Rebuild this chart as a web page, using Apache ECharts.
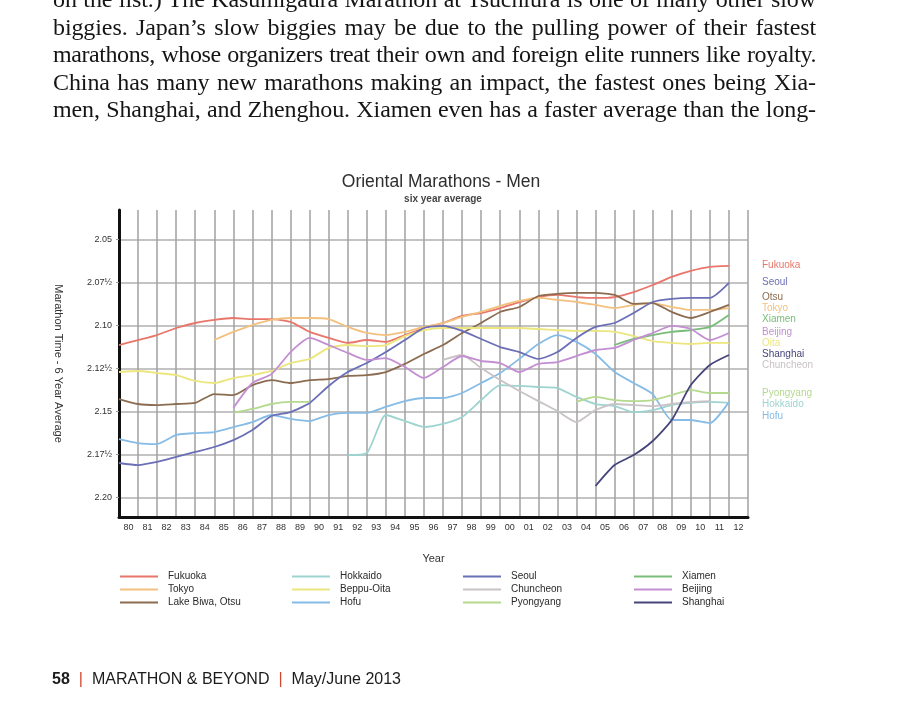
<!DOCTYPE html>
<html>
<head>
<meta charset="utf-8">
<title>Oriental Marathons - Men</title>
<script src="https://cdn.jsdelivr.net/npm/echarts@6/dist/echarts.min.js"></script>
<style>
  html, body { margin: 0; padding: 0; background: #fff; }
  body { width: 900px; height: 718px; position: relative; overflow: hidden; }
  #chart { position: absolute; left: 0; top: 0; width: 900px; height: 718px; }
  .copy { position: absolute; left: 53px; top: -14px; width: 763px;
    font-family: 'Liberation Serif', 'Times New Roman', serif; font-size: 24px;
    line-height: 27.6px; color: #151515; letter-spacing: -0.1px; }
  .copy div { text-align: justify; text-align-last: justify; }
  .copy .tight { letter-spacing: -0.42px; }
  .foot { position: absolute; left: 52px; top: 670px;
    font-family: 'Liberation Sans', Arial, sans-serif; font-size: 16px; color: #1c1c1c; }
  .foot .bar { color: #d2472f; margin: 0 9px; }
</style>
</head>
<body>
<div id="chart"></div>
<div class="copy">
  <div>on the list.) The Kasumigaura Marathon at Tsuchiura is one of many other slow</div>
  <div>biggies. Japan’s slow biggies may be due to the pulling power of their fastest</div>
  <div class="tight">marathons, whose organizers treat their own and foreign elite runners like royalty.</div>
  <div>China has many new marathons making an impact, the fastest ones being Xia-</div>
  <div>men, Shanghai, and Zhenghou. Xiamen even has a faster average than the long-</div>
</div>
<div class="foot"><b>58</b><span class="bar">|</span>MARATHON &amp; BEYOND<span class="bar">|</span>May/June 2013</div>
<script>
// years on the x axis, and their printed labels
const years = [1980, 1981, 1982, 1983, 1984, 1985, 1986, 1987, 1988, 1989, 1990,
  1991, 1992, 1993, 1994, 1995, 1996, 1997, 1998, 1999, 2000, 2001, 2002, 2003,
  2004, 2005, 2006, 2007, 2008, 2009, 2010, 2011, 2012];
const yearLabels = ['80', '81', '82', '83', '84', '85', '86', '87', '88', '89', '90',
  '91', '92', '93', '94', '95', '96', '97', '98', '99', '00', '01', '02', '03',
  '04', '05', '06', '07', '08', '09', '10', '11', '12'];

// marathon time in minutes (125 = 2:05:00), lower is faster
const timeTicks = [125, 127.5, 130, 132.5, 135, 137.5, 140];
const timeLabels = ['2.05', '2.07½', '2.10', '2.12½', '2.15', '2.17½', '2.20'];

const fukuoka = [131.14, 130.85, 130.56, 130.15, 129.86, 129.68, 129.57, 129.63, 129.63, 129.80,
  130.38, 130.73, 131.02, 130.85, 130.96, 130.56, 130.15, 129.86, 129.45, 129.28,
  128.99, 128.64, 128.35, 128.23, 128.35, 128.40, 128.35, 128.06, 127.65, 127.18,
  126.83, 126.60, 126.54];
const tokyo = [null, null, null, null, null, 130.85, 130.38, 129.98, 129.68, 129.57,
  129.57, 129.63, 130.09, 130.44, 130.56, 130.38, 130.09, 129.86, 129.51, 129.22,
  128.87, 128.58, 128.40, 128.52, 128.64, 128.81, 128.99, 128.81, 128.70, 128.93,
  129.10, 129.10, 128.99];
const lakeBiwa = [134.28, 134.57, 134.63, 134.57, 134.51, 133.99, 134.05, 133.47, 133.18, 133.35,
  133.18, 133.12, 132.94, 132.89, 132.71, 132.24, 131.66, 131.14, 130.44, 129.86,
  129.22, 128.93, 128.29, 128.17, 128.11, 128.11, 128.23, 128.75, 128.70, 129.22,
  129.57, 129.22, 128.81];
const hokkaido = [null, null, null, null, null, null, null, null, null, null,
  null, null, 137.54, 137.42, 135.21, 135.56, 135.91, 135.73, 135.33, 134.34,
  133.47, 133.52, 133.58, 133.64, 134.16, 134.57, 134.69, 135.04, 134.92, 134.63,
  134.51, 134.45, 134.51];
const beppuOita = [132.71, 132.65, 132.77, 132.89, 133.23, 133.35, 133.06, 132.89, 132.65, 132.19,
  131.95, 131.31, 131.14, 131.20, 131.14, 130.62, 130.27, 130.15, 130.15, 130.15,
  130.15, 130.15, 130.21, 130.27, 130.32, 130.32, 130.38, 130.62, 130.91, 131.02,
  131.08, 131.02, 131.02];
const hofu = [136.61, 136.84, 136.90, 136.37, 136.26, 136.20, 135.91, 135.62, 135.21, 135.44,
  135.56, 135.21, 135.09, 135.09, 134.74, 134.40, 134.22, 134.22, 133.93, 133.35,
  132.77, 131.95, 131.08, 130.56, 130.96, 131.66, 132.71, 133.35, 133.99, 135.50,
  135.50, 135.68, 134.45];
const seoul = [138.00, 138.12, 137.94, 137.65, 137.36, 137.07, 136.67, 136.08, 135.27, 135.04,
  134.51, 133.52, 132.71, 132.19, 131.55, 130.85, 130.15, 130.03, 130.32, 130.79,
  131.26, 131.55, 131.95, 131.55, 130.73, 130.09, 129.86, 129.28, 128.64, 128.46,
  128.40, 128.40, 127.53];
const chuncheon = [null, null, null, null, null, null, null, null, null, null,
  null, null, null, null, null, null, null, 132.01, 131.72, 132.48,
  133.18, 133.81, 134.40, 134.98, 135.62, 134.92, 134.57, 134.63, 134.69, 134.57,
  134.45, 134.40, null];
const pyongyang = [null, null, null, null, null, null, 135.09, 134.86, 134.57, 134.45,
  134.45, null, null, null, null, null, null, null, null, null,
  null, null, null, null, 134.45, 134.16, 134.34, 134.40, 134.34, 134.05,
  133.76, 133.93, 133.93];
const xiamen = [null, null, null, null, null, null, null, null, null, null,
  null, null, null, null, null, null, null, null, null, null,
  null, null, null, null, null, null, 131.14, 130.79, 130.56, 130.38,
  130.27, 130.09, 129.39];
const beijing = [null, null, null, null, null, null, 134.80, 133.35, 132.83, 131.55,
  130.73, 131.14, 131.60, 132.01, 131.90, 132.42, 133.06, 132.42, 131.78, 132.07,
  132.19, 132.71, 132.24, 132.13, 131.78, 131.43, 131.31, 130.85, 130.44, 130.03,
  130.21, 130.85, 130.44];
const shanghai = [null, null, null, null, null, null, null, null, null, null,
  null, null, null, null, null, null, null, null, null, null,
  null, null, null, null, null, 139.34, 138.12, 137.54, 136.72, 135.50,
  133.47, 132.30, 131.72];

const FONT = "'Liberation Sans', Arial, sans-serif";
const NARROW = "'Liberation Sans Narrow', 'Liberation Sans', Arial, sans-serif";

const lines = [
  ['Fukuoka', fukuoka, '#e8766a'],
  ['Tokyo', tokyo, '#f3c17f'],
  ['Lake Biwa, Otsu', lakeBiwa, '#8b6c50'],
  ['Hokkaido', hokkaido, '#9ed4d0'],
  ['Beppu-Oita', beppuOita, '#ece67e'],
  ['Hofu', hofu, '#86bce6'],
  ['Seoul', seoul, '#6b6fb6'],
  ['Chuncheon', chuncheon, '#c9c2c6'],
  ['Pyongyang', pyongyang, '#b5d98e'],
  ['Xiamen', xiamen, '#78bd79'],
  ['Beijing', beijing, '#c38fd2'],
  ['Shanghai', shanghai, '#46457a']
];

const legendCols = [
  ['Fukuoka', 'Tokyo', 'Lake Biwa, Otsu'],
  ['Hokkaido', 'Beppu-Oita', 'Hofu'],
  ['Seoul', 'Chuncheon', 'Pyongyang'],
  ['Xiamen', 'Beijing', 'Shanghai']
];
const legendLeft = [120, 292, 463, 634];

// names printed beside the line ends
const sideLabels = [
  ['Fukuoka', '#e8766a', 265], ['Seoul', '#6b6fb6', 282], ['Otsu', '#8b6c50', 297],
  ['Tokyo', '#f3c17f', 308], ['Xiamen', '#78bd79', 319], ['Beijing', '#c38fd2', 332],
  ['Oita', '#ece67e', 343], ['Shanghai', '#46457a', 354], ['Chuncheon', '#c9c2c6', 365],
  ['Pyongyang', '#b5d98e', 393], ['Hokkaido', '#9ed4d0', 404], ['Hofu', '#86bce6', 416]
];

const chart = echarts.init(document.getElementById('chart'));
chart.setOption({
  animation: false,
  backgroundColor: 'transparent',
  textStyle: { fontFamily: FONT },
  grid: { left: 119, top: 210, width: 629, height: 307 },
  legend: legendCols.map((names, k) => ({
    data: names,
    orient: 'vertical',
    left: legendLeft[k],
    top: 570,
    padding: 0,
    itemWidth: 38,
    itemHeight: 2,
    itemGap: 0,
    icon: 'rect',
    selectedMode: false,
    textStyle: { fontSize: 10, lineHeight: 13, color: '#2a2a2a', fontFamily: NARROW, padding: [0, 0, 0, 5] }
  })),
  xAxis: {
    type: 'value',
    min: 1980,
    max: 2013,
    interval: 1,
    name: 'Year',
    nameLocation: 'middle',
    nameGap: 36,
    nameTextStyle: { fontSize: 11, color: '#333' },
    axisLine: { show: true, onZero: false, lineStyle: { color: '#111', width: 3 } },
    axisTick: { show: false },
    axisLabel: {
      fontSize: 9,
      color: '#333',
      fontFamily: NARROW,
      margin: 6,
      padding: [0, 0, 0, 19],
      formatter: v => yearLabels[years.indexOf(v)] || ''
    },
    splitLine: { show: true, lineStyle: { color: '#a0a0a0', width: 1.5 } }
  },
  yAxis: {
    type: 'value',
    inverse: true,
    min: 123.29,
    max: 141.14,
    name: 'Marathon Time - 6 Year Average',
    nameLocation: 'middle',
    nameGap: 55,
    nameRotate: -90,
    nameTextStyle: { fontSize: 11, color: '#333' },
    axisLine: { show: true, lineStyle: { color: '#111', width: 3 } },
    axisTick: { show: true, customValues: timeTicks, length: 3, lineStyle: { color: '#999' } },
    axisLabel: {
      customValues: timeTicks,
      fontSize: 9,
      color: '#333',
      fontFamily: NARROW,
      margin: 7,
      formatter: v => timeLabels[timeTicks.indexOf(v)] || ''
    },
    splitLine: { show: true, lineStyle: { color: '#b0b0b0', width: 1.5 } }
  },
  graphic: [
    {
      type: 'text', x: 441, y: 182,
      style: { text: 'Oriental Marathons - Men', fill: '#2e2e2e', font: '17.5px ' + FONT,
        textAlign: 'center', textVerticalAlign: 'middle', align: 'center', verticalAlign: 'middle' }
    },
    {
      type: 'text', x: 443, y: 199,
      style: { text: 'six year average', fill: '#444', font: 'bold 10px ' + FONT,
        textAlign: 'center', textVerticalAlign: 'middle', align: 'center', verticalAlign: 'middle' }
    }
  ].concat(sideLabels.map(([text, fill, y]) => ({
    type: 'text', x: 762, y: y,
    style: { text: text, fill: fill, font: '10px ' + NARROW,
      textAlign: 'left', textVerticalAlign: 'middle', align: 'left', verticalAlign: 'middle' }
  }))),
  series: lines.map(([name, vals, color], k) => ({
    name: name,
    type: 'line',
    data: years.map((yr, i) => [yr, vals[i]]),
    symbol: 'none',
    smooth: 0.2,
    connectNulls: false,
    color: color,
    lineStyle: { width: 1.8, color: color },
    z: 2 + k
  }))
});
</script>
</body>
</html>
